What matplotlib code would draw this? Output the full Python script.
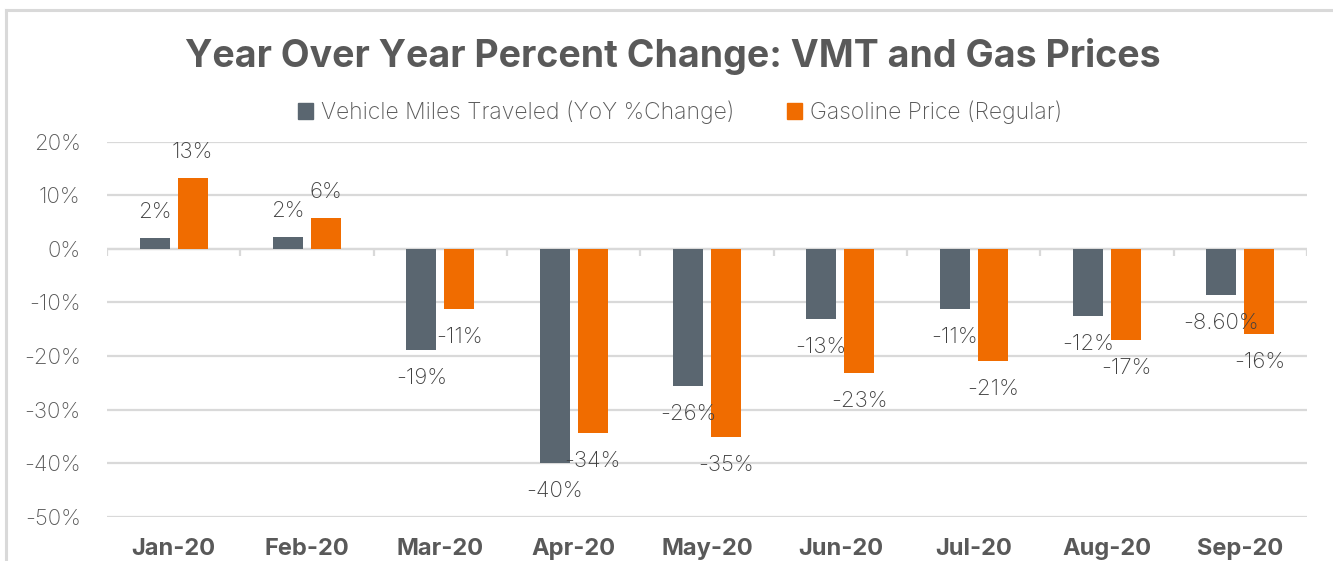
import matplotlib.pyplot as plt
from matplotlib.lines import Line2D
from matplotlib.patches import Patch
import numpy as np

plt.rcParams['font.family'] = ['Inter', 'DejaVu Sans']

months = ['Jan-20', 'Feb-20', 'Mar-20', 'Apr-20', 'May-20',
          'Jun-20', 'Jul-20', 'Aug-20', 'Sep-20']
vmt = [2.1, 2.2, -18.9, -40.0, -25.6, -13.1, -11.3, -12.5, -8.6]
gas = [13.3, 5.7, -11.2, -34.4, -35.1, -23.1, -21.0, -17.1, -15.9]
vmt_labels = ['2%', '2%', '-19%', '-40%', '-26%', '-13%', '-11%', '-12%', '-8.60%']
gas_labels = ['13%', '6%', '-11%', '-34%', '-35%', '-23%', '-21%', '-17%', '-16%']
yticks = [20, 10, 0, -10, -20, -30, -40, -50]

c_vmt = '#5A6670'
c_gas = '#F06C00'
grey_text = '#595959'
grid_c = '#D9D9D9'

fig = plt.figure(figsize=(13.33, 5.61), dpi=100)
ax = fig.add_axes([0.0803, 0.079, 0.9002, 0.6684])

x = np.arange(len(months))
w = 0.225
off = 0.1425
b1 = ax.bar(x - off, vmt, w, color=c_vmt, zorder=3)
b2 = ax.bar(x + off, gas, w, color=c_gas, zorder=3)

for bars, labs in [(b1, vmt_labels), (b2, gas_labels)]:
    for b, lab in zip(bars, labs):
        v = b.get_height()
        ax.annotate(lab, (b.get_x() + b.get_width() / 2, v),
                    xytext=(0, 26 if v > 0 else -28), textcoords='offset pixels',
                    ha='center', va='center', fontsize=16, color='#404040',
                    fontweight='light', zorder=4)

ax.set_xlim(-0.5, len(months) - 0.5)
ax.set_ylim(-50, 20)
ax.set_yticks(yticks)
ax.set_yticklabels([f'{t}%' for t in yticks])
ax.set_xticks(x)
ax.set_xticklabels(months, fontweight='bold', fontsize=17, color=grey_text)
ax.tick_params(axis='x', length=0, pad=15)
ax.tick_params(axis='y', length=0, pad=19, labelsize=16, labelcolor=grey_text)
for t in ax.get_yticklabels():
    t.set_fontweight('light')

ax.grid(axis='y', color=grid_c, linewidth=1.6, zorder=0)
ax.axhline(0, color=grid_c, linewidth=1.6, zorder=2)
ax.vlines(np.arange(len(months) + 1) - 0.5, -1.4, 0, color=grid_c, linewidth=1.6, zorder=2)
for s in ax.spines.values():
    s.set_visible(False)

fig.text(0.5045, 0.9, 'Year Over Year Percent Change: VMT and Gas Prices',
         ha='center', va='center', fontsize=27, fontweight='bold', color=grey_text)

handles = [Patch(color=c_vmt, label='Vehicle Miles Traveled (YoY %Change)'),
           Patch(color=c_gas, label='Gasoline Price (Regular)')]
fig.legend(handles=handles, loc='center', bbox_to_anchor=(0.51, 0.8), ncol=2,
           frameon=False, handlelength=0.65, handleheight=0.65,
           handletextpad=0.35, columnspacing=2.3, labelcolor=grey_text,
           prop={'weight': 'light', 'size': 16.5})

# panel frame
fig.add_artist(Line2D([0.0045, 0.0045], [0, 0.982], color=grid_c, linewidth=2.2))
fig.add_artist(Line2D([0.0045, 1.0], [0.982, 0.982], color=grid_c, linewidth=2.2))

fig.savefig('out.png', dpi=100)
